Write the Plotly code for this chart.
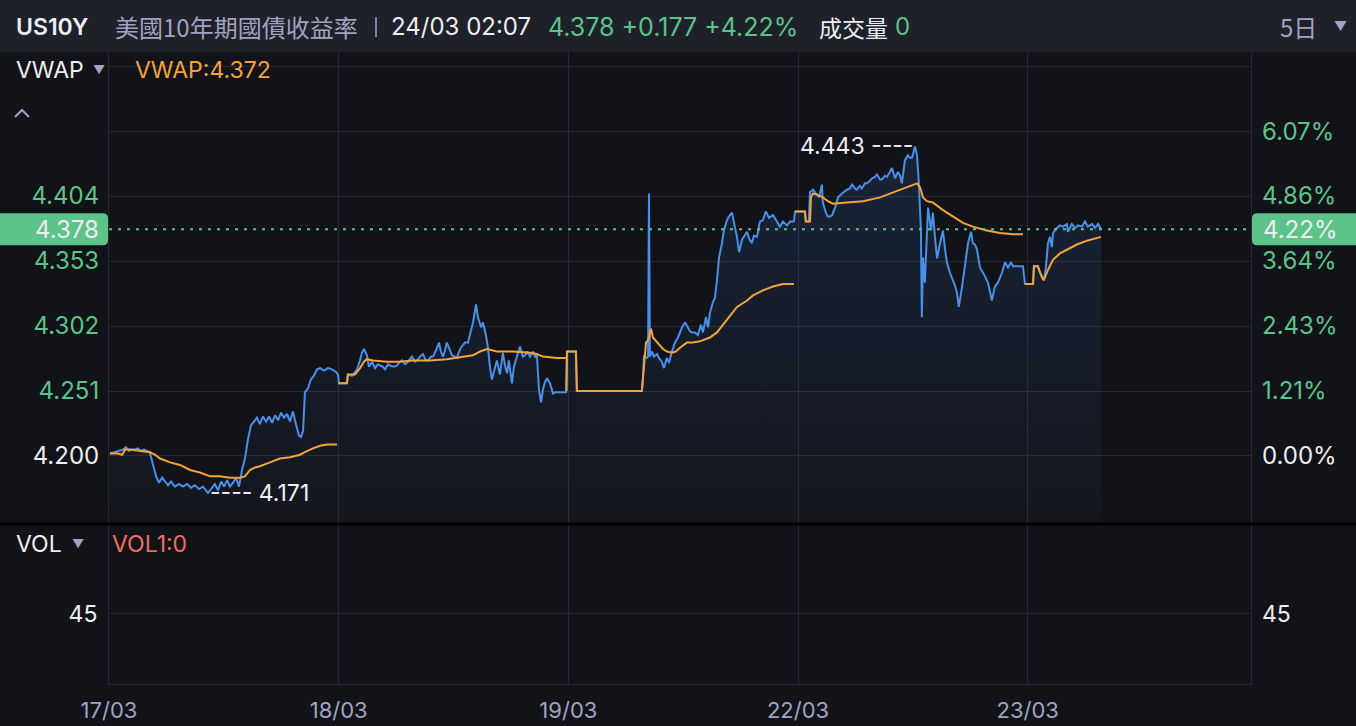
import plotly.graph_objects as go

# ---------------- data ----------------
day_labels = ["17/03", "18/03", "19/03", "22/03", "23/03"]
day_ticks = [0, 1, 2, 3, 4]
x_max = 4.972

# price (US10Y yield) samples; x = trading-day position
price_t = [
    # 17/03
    0.004, 0.026, 0.048, 0.061, 0.074, 0.087, 0.100, 0.113, 0.126, 0.139, 0.152, 0.165, 0.178,
    0.192, 0.205, 0.218, 0.231, 0.244, 0.257, 0.270, 0.287, 0.305, 0.322, 0.340, 0.357, 0.374,
    0.392, 0.409, 0.422, 0.431, 0.448, 0.461, 0.475, 0.488, 0.501, 0.514, 0.527, 0.540, 0.553,
    0.566, 0.579, 0.592, 0.605, 0.618, 0.631, 0.644, 0.657, 0.670, 0.684, 0.697, 0.710, 0.723,
    0.736, 0.749, 0.762, 0.775, 0.788, 0.801, 0.814, 0.827, 0.836, 0.845, 0.853, 0.866, 0.879,
    0.892, 0.906, 0.919, 0.936, 0.953, 0.971, 0.988, 0.997,
    # 18/03
    1.001, 1.036, 1.040,
    1.058, 1.080, 1.093, 1.101, 1.110, 1.123, 1.132, 1.145, 1.158, 1.171,
    1.180, 1.193, 1.202, 1.215, 1.223, 1.241, 1.254, 1.267, 1.276, 1.289,
    1.297, 1.310, 1.319, 1.332, 1.341, 1.354, 1.367, 1.380, 1.389, 1.402,
    1.411, 1.424, 1.437, 1.445, 1.454, 1.463, 1.471, 1.485, 1.493, 1.506,
    1.515, 1.524, 1.532, 1.541, 1.550, 1.563, 1.572, 1.585, 1.598, 1.606,
    1.620, 1.628, 1.641, 1.650, 1.659, 1.667, 1.680, 1.689, 1.702, 1.715,
    1.724, 1.733, 1.741, 1.754, 1.763, 1.776, 1.789, 1.802, 1.811, 1.820,
    1.833, 1.846, 1.855, 1.863, 1.872, 1.881, 1.889, 1.898, 1.907, 1.920,
    1.933, 1.942, 1.963, 1.990,
    # 19/03
    1.994, 2.033, 2.037,
    2.320, 2.325, 2.329, 2.342, 2.347, 2.351, 2.355, 2.364, 2.373, 2.386,
    2.394, 2.407, 2.416, 2.429, 2.438, 2.451, 2.464, 2.477, 2.486, 2.495,
    2.508, 2.521, 2.529, 2.538, 2.551, 2.564, 2.577, 2.586, 2.599, 2.608,
    2.616, 2.630, 2.638, 2.647, 2.656, 2.669, 2.677, 2.690, 2.699, 2.712,
    2.721, 2.734, 2.743, 2.756, 2.764, 2.778, 2.786, 2.799, 2.808, 2.821,
    2.834, 2.847, 2.860, 2.873, 2.882, 2.891, 2.908, 2.921, 2.934, 2.952,
    2.965, 2.982,
    # 22/03
    2.987, 3.030, 3.034, 3.047,
    3.052, 3.065, 3.082, 3.091, 3.104, 3.108, 3.121, 3.130, 3.139, 3.148,
    3.161, 3.174, 3.191, 3.204, 3.213, 3.226, 3.235, 3.248, 3.256, 3.269,
    3.278, 3.291, 3.300, 3.313, 3.322, 3.335, 3.343, 3.357, 3.365, 3.378,
    3.387, 3.400, 3.409, 3.422, 3.435, 3.444, 3.452, 3.465, 3.478, 3.487,
    3.496, 3.509, 3.518, 3.526, 3.535, 3.539, 3.544, 3.552, 3.561, 3.566,
    3.579, 3.587, 3.596, 3.605, 3.618, 3.631, 3.640, 3.648, 3.661, 3.674,
    3.683, 3.692, 3.700, 3.714, 3.727, 3.740, 3.753, 3.761, 3.770, 3.779,
    3.792, 3.805, 3.814, 3.827, 3.835, 3.844, 3.857, 3.870, 3.879, 3.888,
    3.901, 3.914, 3.927, 3.936, 3.957, 3.979,
    # 23/03
    3.988, 4.023, 4.027, 4.044,
    4.053, 4.062, 4.070, 4.079, 4.088, 4.097, 4.105, 4.110, 4.127, 4.140,
    4.153, 4.171, 4.175, 4.192, 4.206, 4.219, 4.236, 4.249, 4.262, 4.280,
    4.293, 4.306, 4.319,
]
price_y = [
    # 17/03
    4.202, 4.203, 4.204, 4.205, 4.207, 4.204, 4.205, 4.205, 4.206, 4.204, 4.205, 4.204, 4.203,
    4.193, 4.184, 4.179, 4.183, 4.180, 4.177, 4.180, 4.176, 4.178, 4.176, 4.178, 4.175, 4.177,
    4.174, 4.176, 4.173, 4.171, 4.175, 4.178, 4.173, 4.180, 4.176, 4.181, 4.176, 4.179, 4.183,
    4.176, 4.189, 4.198, 4.213, 4.224, 4.227, 4.230, 4.225, 4.231, 4.227, 4.231, 4.226, 4.232,
    4.228, 4.234, 4.230, 4.233, 4.227, 4.235, 4.225, 4.216, 4.215, 4.220, 4.250, 4.253, 4.260,
    4.263, 4.268, 4.269, 4.267, 4.269, 4.268, 4.266, 4.264,
    # 18/03
    4.257, 4.257, 4.264,
    4.263, 4.268, 4.275, 4.281, 4.284, 4.279, 4.270, 4.274, 4.269, 4.272,
    4.271, 4.270, 4.268, 4.272, 4.271, 4.270, 4.271, 4.274, 4.275, 4.272,
    4.273, 4.276, 4.278, 4.274, 4.275, 4.278, 4.280, 4.275, 4.275, 4.278,
    4.278, 4.283, 4.289, 4.282, 4.278, 4.283, 4.289, 4.283, 4.279, 4.278,
    4.277, 4.282, 4.285, 4.287, 4.289, 4.289, 4.295, 4.305, 4.319, 4.309,
    4.301, 4.305, 4.295, 4.285, 4.269, 4.260, 4.269, 4.275, 4.264, 4.281,
    4.271, 4.265, 4.275, 4.257, 4.270, 4.278, 4.286, 4.278, 4.279, 4.282,
    4.278, 4.282, 4.278, 4.279, 4.252, 4.242, 4.252, 4.258, 4.261, 4.257,
    4.249, 4.250, 4.250, 4.250,
    # 19/03
    4.282, 4.282, 4.251,
    4.251, 4.262, 4.278, 4.277, 4.278, 4.406, 4.278, 4.282, 4.278, 4.280,
    4.277, 4.274, 4.269, 4.277, 4.273, 4.282, 4.289, 4.293, 4.297, 4.301,
    4.305, 4.300, 4.298, 4.297, 4.297, 4.295, 4.303, 4.297, 4.309, 4.301,
    4.312, 4.321, 4.324, 4.338, 4.356, 4.367, 4.377, 4.385, 4.388, 4.391,
    4.383, 4.372, 4.360, 4.370, 4.372, 4.376, 4.371, 4.367, 4.373, 4.372,
    4.384, 4.385, 4.392, 4.387, 4.388, 4.389, 4.384, 4.380, 4.384, 4.381,
    4.384, 4.384,
    # 22/03
    4.392, 4.392, 4.384, 4.384,
    4.407, 4.409, 4.405, 4.403, 4.413, 4.399, 4.391, 4.388, 4.388, 4.389,
    4.395, 4.403, 4.406, 4.408, 4.409, 4.410, 4.413, 4.410, 4.409, 4.412,
    4.410, 4.414, 4.414, 4.416, 4.418, 4.419, 4.421, 4.417, 4.417, 4.420,
    4.419, 4.423, 4.426, 4.418, 4.423, 4.420, 4.414, 4.432, 4.436, 4.434,
    4.434, 4.443, 4.436, 4.414, 4.377, 4.309, 4.356, 4.336, 4.383, 4.395,
    4.377, 4.391, 4.372, 4.355, 4.367, 4.377, 4.362, 4.352, 4.344, 4.338,
    4.334, 4.328, 4.317, 4.333, 4.352, 4.367, 4.376, 4.367, 4.366, 4.362,
    4.348, 4.344, 4.341, 4.336, 4.330, 4.322, 4.333, 4.336, 4.340, 4.344,
    4.352, 4.348, 4.352, 4.349, 4.349, 4.349,
    # 23/03
    4.335, 4.335, 4.349, 4.349,
    4.344, 4.340, 4.338, 4.348, 4.367, 4.372, 4.364, 4.375, 4.379, 4.381,
    4.380, 4.382, 4.376, 4.382, 4.379, 4.381, 4.380, 4.384, 4.380, 4.382,
    4.379, 4.382, 4.378,
]

# VWAP, reset each session (None = session break)
vwap_t = [
    0.004, 0.039, 0.057, 0.070, 0.091, 0.135, 0.178, 0.200, 0.222, 0.266, 0.309, 0.353, 0.396,
    0.440, 0.483, 0.527, 0.570, 0.592, 0.614, 0.636, 0.657, 0.701, 0.744, 0.788, 0.832, 0.853,
    0.888, 0.919, 0.949, 0.993, None,
    0.997, 1.036, 1.040, 1.071, 1.093, 1.110, 1.123, 1.149, 1.210, 1.267, 1.323, 1.397, 1.471,
    1.541, 1.585, 1.615, 1.646, 1.689, 1.759, 1.833, 1.863, 1.889, 1.950, 1.990, None,
    1.992, 1.994, 2.033, 2.037, 2.320, 2.325, 2.338, 2.347, 2.360, 2.368, 2.386, 2.412, 2.429,
    2.451, 2.468, 2.486, 2.516, 2.542, 2.573, 2.616, 2.647, 2.673, 2.704, 2.734, 2.778, 2.804,
    2.847, 2.891, 2.934, 2.982, None,
    2.987, 3.030, 3.034, 3.052, 3.056, 3.065, 3.087, 3.108, 3.130, 3.152, 3.213, 3.283, 3.357,
    3.413, 3.474, 3.518, 3.531, 3.544, 3.561, 3.587, 3.631, 3.674, 3.718, 3.761, 3.822, 3.879,
    3.936, 3.979, None,
    3.988, 4.023, 4.027, 4.044, 4.062, 4.070, 4.088, 4.110, 4.140, 4.171, 4.214, 4.258, 4.319,
]
vwap_y = [
    4.202, 4.202, 4.201, 4.205, 4.205, 4.204, 4.203, 4.201, 4.198, 4.195, 4.193, 4.189, 4.187,
    4.184, 4.184, 4.183, 4.183, 4.184, 4.189, 4.191, 4.192, 4.195, 4.198, 4.199, 4.201, 4.203,
    4.206, 4.208, 4.209, 4.209, None,
    4.257, 4.257, 4.264, 4.264, 4.269, 4.274, 4.276, 4.275, 4.274, 4.274, 4.275, 4.275, 4.276,
    4.278, 4.279, 4.282, 4.284, 4.282, 4.282, 4.281, 4.280, 4.278, 4.277, 4.277, None,
    4.251, 4.282, 4.282, 4.251, 4.251, 4.262, 4.289, 4.291, 4.300, 4.293, 4.289, 4.284, 4.282,
    4.281, 4.282, 4.285, 4.289, 4.289, 4.290, 4.293, 4.297, 4.303, 4.311, 4.317, 4.322, 4.326,
    4.330, 4.333, 4.335, 4.335, None,
    4.392, 4.392, 4.384, 4.384, 4.403, 4.406, 4.405, 4.403, 4.400, 4.398, 4.399, 4.400, 4.403,
    4.407, 4.411, 4.414, 4.411, 4.403, 4.400, 4.399, 4.393, 4.388, 4.383, 4.380, 4.377, 4.375,
    4.374, 4.374, None,
    4.335, 4.335, 4.349, 4.349, 4.340, 4.338, 4.346, 4.354, 4.359, 4.362, 4.366, 4.369, 4.372,
]

price_ticks = [4.200, 4.251, 4.302, 4.353, 4.404, 4.455, 4.506]
base_price = 4.200
y_range = [4.1474, 4.5171]
last_price = 4.378
last_change = 0.177
last_pct = 4.22
vwap_last = 4.372
vol_last = 0
vol_ticks = [45]
vol_range = [0, 101.4]
hi_t, hi_v = 3.509, 4.443
lo_t, lo_v = 0.431, 4.171
symbol = "US10Y"
name = "美國10年期國債收益率"
stamp = "24/03 02:07"
period = "5日"

# ---------------- style ----------------
W, H = 1356, 726
BG = "#121318"
HEADER = "#1e2129"
GRID = "#262932"
GREEN = "#5cc38a"
BLUE = "#4a8fe8"
ORANGE = "#f4a33b"
WHITE = "#eeeef2"
MUTED = "#a1a3c1"
SALMON = "#ef6f5e"
FONT = "Inter, 'Noto Sans CJK TC', sans-serif"
CJK = "'Noto Sans CJK TC', Inter, sans-serif"

L, R = 109, 1251
MAIN_TOP, MAIN_BOT = 52, 523
VOL_TOP, VOL_BOT = 525, 684


def fx(px):
    return px / W


def fy(py):
    return 1 - py / H


left_text = []
for v in price_ticks:
    if abs(v - base_price) < 1e-9:
        left_text.append(f"<span style='color:{WHITE}'>{v:.3f}</span>")
    elif v > 4.43:
        left_text.append("")
    else:
        left_text.append(f"{v:.3f}")
right_vals = price_ticks[:6]
right_text = []
for v in right_vals:
    s = f"{(v / base_price - 1) * 100:.2f}%"
    if abs(v - base_price) < 1e-9:
        s = f"<span style='color:{WHITE}'>{s}</span>"
    right_text.append(s)

fig = go.Figure()

fig.add_trace(go.Scatter(
    x=price_t, y=price_y, mode="lines", line=dict(color=BLUE, width=2),
    fill="tozeroy",
    fillgradient=dict(type="vertical",
                      colorscale=[[0, "rgba(60,125,215,0.03)"], [1, "rgba(60,125,215,0.16)"]],
                      start=y_range[0], stop=4.45),
    hoverinfo="skip", showlegend=False, xaxis="x", yaxis="y"))
fig.add_trace(go.Scatter(
    x=vwap_t, y=vwap_y, mode="lines", line=dict(color=ORANGE, width=2),
    connectgaps=False, hoverinfo="skip", showlegend=False, xaxis="x", yaxis="y"))
# anchors for the secondary axes (invisible)
fig.add_trace(go.Scatter(x=[x_max], y=[last_price], mode="markers", marker=dict(opacity=0),
                         hoverinfo="skip", showlegend=False, xaxis="x", yaxis="y3"))
fig.add_trace(go.Scatter(x=[x_max], y=[vol_last], mode="markers", marker=dict(opacity=0),
                         hoverinfo="skip", showlegend=False, xaxis="x2", yaxis="y2"))
fig.add_trace(go.Scatter(x=[x_max], y=[vol_last], mode="markers", marker=dict(opacity=0),
                         hoverinfo="skip", showlegend=False, xaxis="x2", yaxis="y4"))

main_dom = [fy(MAIN_BOT), fy(MAIN_TOP)]
vol_dom = [fy(VOL_BOT), fy(VOL_TOP)]
xdom = [fx(L), fx(R)]

axis_common = dict(zeroline=False, ticks="", fixedrange=True, automargin=False)

fig.update_layout(
    width=W, height=H, autosize=False,
    margin=dict(l=0, r=0, t=0, b=0, pad=0, autoexpand=False),
    paper_bgcolor=BG, plot_bgcolor=BG,
    hovermode=False, showlegend=False,
    font=dict(family=FONT, color=WHITE, size=24),
    xaxis=dict(domain=xdom, range=[0, x_max], anchor="y", tickvals=day_ticks,
               showticklabels=False, showgrid=True, gridcolor=GRID, gridwidth=1,
               showline=False, **axis_common),
    xaxis2=dict(domain=xdom, range=[0, x_max], anchor="y2", matches="x",
                tickvals=day_ticks, ticktext=day_labels, showgrid=True, gridcolor=GRID,
                showline=True, linecolor=GRID, linewidth=1,
                tickfont=dict(size=22, color=MUTED, family=FONT), ticklabelstandoff=7,
                **axis_common),
    yaxis=dict(domain=main_dom, range=y_range, anchor="x", side="left",
               tickvals=price_ticks, ticktext=left_text,
               tickfont=dict(size=24, color=GREEN, family=FONT),
               showgrid=True, gridcolor=GRID, showline=True, mirror=True,
               linecolor=GRID, linewidth=1, ticklabelstandoff=4, **axis_common),
    yaxis3=dict(range=y_range, overlaying="y", anchor="x", side="right",
                tickvals=right_vals, ticktext=right_text,
                tickfont=dict(size=24, color=GREEN, family=FONT),
                showgrid=False, showline=False, ticklabelstandoff=10, **axis_common),
    yaxis2=dict(domain=vol_dom, range=vol_range, anchor="x2", side="left",
                tickvals=vol_ticks, ticktext=[str(v) for v in vol_ticks],
                tickfont=dict(size=23, color=WHITE, family=FONT),
                showgrid=True, gridcolor=GRID, showline=True, mirror=True,
                linecolor=GRID, linewidth=1, ticklabelstandoff=6, **axis_common),
    yaxis4=dict(range=vol_range, overlaying="y2", anchor="x2", side="right",
                tickvals=vol_ticks, ticktext=[str(v) for v in vol_ticks],
                tickfont=dict(size=23, color=WHITE, family=FONT),
                showgrid=False, showline=False, ticklabelstandoff=10, **axis_common),
)

# ---------------- shapes ----------------
pp = (y_range[1] - y_range[0]) / (MAIN_BOT - MAIN_TOP)  # price per pixel
hb = 16 * pp
r_x, r_y = 5 / W, 5 * pp
y0, y1 = last_price - hb, last_price + hb
lx1 = fx(108)
rx0 = fx(1252)
shapes = [
    dict(type="rect", xref="paper", yref="paper", x0=0, x1=1, y0=fy(MAIN_TOP), y1=1,
         fillcolor=HEADER, line=dict(width=0), layer="below"),
    dict(type="line", xref="paper", yref="paper", x0=0, x1=1, y0=fy(524), y1=fy(524),
         line=dict(color="#000000", width=3)),
    dict(type="line", xref="x", yref="y", x0=0, x1=x_max, y0=last_price, y1=last_price,
         line=dict(color=GREEN, width=2, dash="3px,6px")),
    dict(type="path", xref="paper", yref="y",
         path=(f"M 0,{y0} L {lx1 - r_x},{y0} Q {lx1},{y0} {lx1},{y0 + r_y} "
               f"L {lx1},{y1 - r_y} Q {lx1},{y1} {lx1 - r_x},{y1} L 0,{y1} Z"),
         fillcolor=GREEN, line=dict(width=0)),
    dict(type="path", xref="paper", yref="y",
         path=(f"M 1,{y0} L {rx0 + r_x},{y0} Q {rx0},{y0} {rx0},{y0 + r_y} "
               f"L {rx0},{y1 - r_y} Q {rx0},{y1} {rx0 + r_x},{y1} L 1,{y1} Z"),
         fillcolor=GREEN, line=dict(width=0)),
    dict(type="line", xref="paper", yref="paper", x0=fx(376), x1=fx(376), y0=fy(17), y1=fy(37),
         line=dict(color=MUTED, width=1.5)),
    dict(type="path", xref="paper", yref="paper",
         path=f"M {fx(15)},{fy(117)} L {fx(22)},{fy(110)} L {fx(29)},{fy(117)}",
         line=dict(color=MUTED, width=2)),
]
fig.update_layout(shapes=shapes)


# ---------------- annotations ----------------
def txt(text, x, y, color=WHITE, size=24, xanchor="left", family=FONT, xref="paper", yref="paper",
        weight=None):
    f = dict(color=color, size=size, family=family)
    if weight:
        f["weight"] = weight
    return dict(text=text, x=x, y=y, xref=xref, yref=yref, xanchor=xanchor, yanchor="middle",
                showarrow=False, font=f)


hy = fy(27)
ann = [
    txt(symbol, fx(14), hy, WHITE, 23, weight=600),
    txt(name, fx(113), hy, MUTED, 24, family=CJK),
    txt(stamp, fx(389), hy, WHITE, 24),
    txt(f"{last_price:.3f} +{last_change:.3f} +{last_pct:.2f}%", fx(546), hy, GREEN, 25),
    txt("成交量", fx(817), hy, WHITE, 23, family=CJK),
    txt(str(vol_last), fx(893), hy, GREEN, 24),
    txt(period, fx(1278), hy, MUTED, 24, family=CJK),
    txt("▼", fx(1340), fy(26), MUTED, 13, xanchor="center"),
    txt("VWAP", fx(14), fy(70), WHITE, 23),
    txt("▼", fx(99), fy(69), MUTED, 12, xanchor="center"),
    txt(f"VWAP:{vwap_last:.3f}", fx(133), fy(70), ORANGE, 23),
    txt("VOL", fx(14), fy(544), WHITE, 23),
    txt("▼", fx(78), fy(543), MUTED, 12, xanchor="center"),
    txt(f"VOL1:{vol_last}", fx(110), fy(544), SALMON, 23),
    txt(f"{last_price:.3f}", fx(101), last_price, WHITE, 24, xanchor="right", yref="y"),
    txt(f"{last_pct:.2f}%", fx(1261), last_price, WHITE, 24, yref="y"),
    txt(f"{hi_v:.3f} ----", hi_t, hi_v, WHITE, 23, xanchor="right", xref="x", yref="y"),
    txt(f"---- {lo_v:.3f}", lo_t, lo_v, WHITE, 23, xanchor="left", xref="x", yref="y"),
]
fig.update_layout(annotations=ann)

fig.write_html(
    "out.html",
    config={"displayModeBar": False, "staticPlot": True},
    post_script=("document.body.style.margin='0';document.body.style.padding='0';"
                 "document.body.style.overflow='hidden';"
                 "document.body.style.background='#121318';"),
)
